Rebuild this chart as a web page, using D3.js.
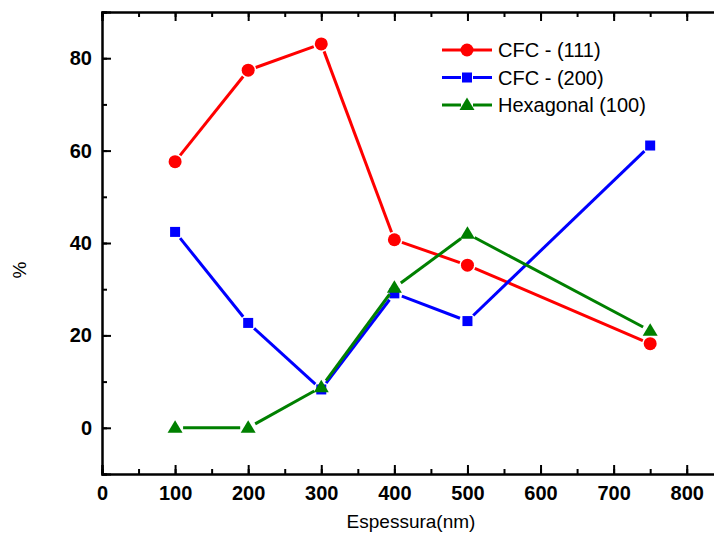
<!DOCTYPE html>
<html>
<head>
<meta charset="utf-8">
<script src="https://cdn.jsdelivr.net/npm/d3@7"></script>
<style>
  body { margin: 0; background: #fff; }
  svg { display: block; font-family: Arial, "Liberation Sans", sans-serif; }
</style>
</head>
<body>
<svg id="chart" width="714" height="542"></svg>
<script>
const thickness = [100, 200, 300, 400, 500, 750];
const cfc111 = [57.6, 77.4, 83.1, 40.7, 35.2, 18.2];
const cfc200 = [42.4, 22.7, 8.3, 29.1, 23.1, 61.1];
const hexa100 = [0, 0, 8.8, 30.3, 42.0, 21.0];
const seriesNames = ["CFC - (111)", "CFC - (200)", "Hexagonal (100)"];
const xTicks = [0, 100, 200, 300, 400, 500, 600, 700, 800];
const yTicks = [0, 20, 40, 60, 80];

const svg = d3.select("#chart");
const plotLeft = 102, plotTop = 12, plotBottom = 474;
const fontFam = "Arial, 'Liberation Sans', sans-serif";

const x = d3.scaleLinear().domain([0, 850]).range([plotLeft, plotLeft + 850 * 0.7309]);
const y = d3.scaleLinear().domain([-10, 90]).range([plotBottom, plotTop]);

const series = [
  { name: seriesNames[0], values: cfc111, color: "#ff0000", shape: "circle" },
  { name: seriesNames[1], values: cfc200, color: "#0000ff", shape: "square" },
  { name: seriesNames[2], values: hexa100, color: "#008000", shape: "triangle" },
];

// axes
const axisG = svg.append("g");
const xMinor = d3.range(0, 851, 50);
const yMinor = d3.range(-10, 91, 10);

function styleAxis(g) {
  g.attr("font-family", fontFam).attr("font-size", 20);
  g.select(".domain").attr("stroke", "#000").attr("stroke-width", 2);
  g.selectAll(".tick line").attr("stroke", "#000").attr("stroke-width", 2);
  g.selectAll(".tick text").attr("font-weight", "bold").attr("fill", "#000");
}

axisG.append("g").attr("transform", `translate(0,${plotBottom})`)
  .call(d3.axisBottom(x).tickValues(xMinor).tickSize(-5).tickFormat(""))
  .call(styleAxis);
axisG.append("g").attr("transform", `translate(0,${plotBottom})`)
  .call(d3.axisBottom(x).tickValues(xTicks).tickSize(-9).tickPadding(12))
  .call(styleAxis);
axisG.append("g").attr("transform", `translate(0,${plotTop})`)
  .call(d3.axisTop(x).tickValues(xMinor).tickSize(-5).tickFormat(""))
  .call(styleAxis);
axisG.append("g").attr("transform", `translate(0,${plotTop})`)
  .call(d3.axisTop(x).tickValues(xTicks).tickSize(-9).tickFormat(""))
  .call(styleAxis);
axisG.append("g").attr("transform", `translate(${plotLeft},0)`)
  .call(d3.axisLeft(y).tickValues(yMinor).tickSize(-5).tickFormat(""))
  .call(styleAxis);
axisG.append("g").attr("transform", `translate(${plotLeft},0)`)
  .call(d3.axisLeft(y).tickValues(yTicks).tickSize(-9).tickPadding(10))
  .call(styleAxis);

// axis titles
svg.append("text")
  .attr("x", 411).attr("y", 528)
  .attr("text-anchor", "middle").attr("font-size", 19)
  .text("Espessura(nm)");
svg.append("text")
  .attr("transform", "translate(26,270) rotate(-90)")
  .attr("text-anchor", "middle").attr("font-size", 19)
  .text("%");

// marker drawing
function marker(g, shape, color) {
  if (shape === "circle") {
    g.append("circle").attr("r", 6.5).attr("fill", color);
  } else if (shape === "square") {
    g.append("rect").attr("x", -5).attr("y", -5).attr("width", 10).attr("height", 10).attr("fill", color);
  } else {
    g.append("path").attr("d", "M0,-7.5L7.5,5L-7.5,5Z").attr("fill", color);
  }
}

const gap = 8;
const plot = svg.append("g");
series.forEach(s => {
  const pts = thickness.map((t, i) => [x(t), y(s.values[i])]);
  const segs = d3.pairs(pts).map(([a, b]) => {
    const dx = b[0] - a[0], dy = b[1] - a[1];
    const len = Math.hypot(dx, dy);
    const ux = dx / len, uy = dy / len;
    return [[a[0] + ux * gap, a[1] + uy * gap], [b[0] - ux * gap, b[1] - uy * gap]];
  });
  plot.append("g").selectAll("line").data(segs).join("line")
    .attr("x1", d => d[0][0]).attr("y1", d => d[0][1])
    .attr("x2", d => d[1][0]).attr("y2", d => d[1][1])
    .attr("stroke", s.color).attr("stroke-width", 3);
  plot.append("g").selectAll("g").data(pts).join("g")
    .attr("transform", d => `translate(${d[0]},${d[1]})`)
    .each(function () { marker(d3.select(this), s.shape, s.color); });
});

// legend
const legend = svg.append("g").attr("transform", "translate(442,50)");
series.forEach((s, i) => {
  const row = legend.append("g").attr("transform", `translate(0,${i * 27.5})`);
  row.append("line").attr("x1", 0).attr("x2", 19).attr("stroke", s.color).attr("stroke-width", 3);
  row.append("line").attr("x1", 31).attr("x2", 50).attr("stroke", s.color).attr("stroke-width", 3);
  marker(row.append("g").attr("transform", "translate(25,0)"), s.shape, s.color);
  row.append("text").attr("x", 56).attr("y", 0).attr("dy", "0.35em")
    .attr("font-size", 20).text(s.name);
});
</script>
</body>
</html>
